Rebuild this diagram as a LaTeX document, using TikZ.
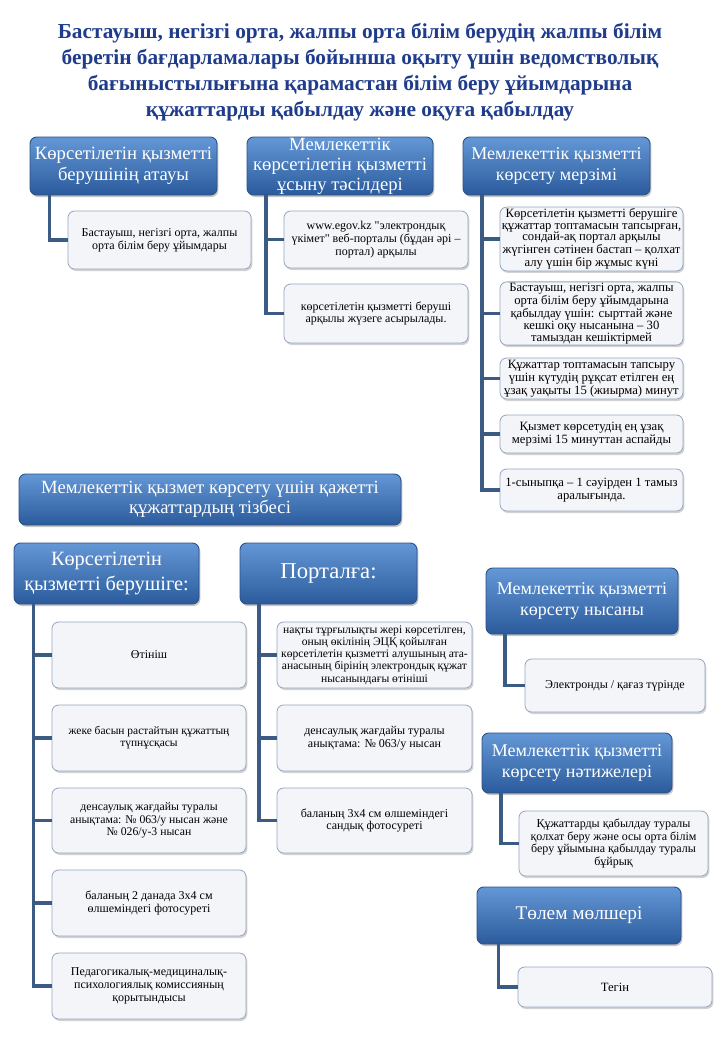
\documentclass[tikz,border=0pt]{standalone}
\usepackage{fontspec}
\setmainfont{Liberation Serif}[Ligatures=TeXOff]
\usepackage{tikz}
\usetikzlibrary{shadows}
\definecolor{hdrtop}{HTML}{6497D6}
\definecolor{hdrbot}{HTML}{2B5B9C}
\definecolor{hdrline}{HTML}{2C5286}
\definecolor{itmfill}{HTML}{F3F5F9}
\definecolor{itmline}{HTML}{93A6BE}
\definecolor{connc}{HTML}{3C5B84}
\definecolor{titleblue}{HTML}{1F3C8C}
\tikzset{
  hdr/.style={draw=hdrline,line width=0.7pt,rounded corners=5pt,top color=hdrtop,bottom color=hdrbot,
    text=white,align=center,inner sep=1pt,
    drop shadow={opacity=0.45,shadow xshift=1pt,shadow yshift=-1.5pt},
    font=\fontsize{13.5}{16}\selectfont},
  itm/.style={draw=itmline,line width=0.6pt,rounded corners=5pt,fill=itmfill,align=center,inner sep=1pt,
    drop shadow={opacity=0.35,shadow xshift=1pt,shadow yshift=-1.5pt},
    font=\fontsize{9}{9.6}\selectfont},
  wh/.style 2 args={minimum width=#1*0.75pt,minimum height=#2*0.75pt},
  conn/.style={draw=connc,line width=2.6pt},
}
\begin{document}
\begin{tikzpicture}[x=0.75pt,y=-0.75pt]
\useasboundingbox[fill=white] (0,0) rectangle (720,1040);
% title
\node (title) at (360,72)[align=center,text=titleblue,font=\fontsize{16}{19.5}\selectfont\bfseries]
  {Бастауыш,  негізгі орта, жалпы орта білім берудің жалпы білім\\
   беретін бағдарламалары бойынша оқыту үшін ведомстволық\\
   бағыныстылығына  қарамастан білім беру ұйымдарына\\
   құжаттарды  қабылдау және оқуға қабылдау};

% top row
\node (h1) at (123.5,166)[hdr,wh={187}{58},font=\fontsize{14}{16}\selectfont]{Көрсетілетін қызметті\\ берушінің атауы};
\node (h2) at (340,166)[hdr,wh={186}{58},inner ysep=0pt,font=\fontsize{14}{15}\selectfont]{Мемлекеттік\\ көрсетілетін қызметті\\ ұсыну тәсілдері};
\node (h3) at (556.5,166)[hdr,wh={187}{58}]{Мемлекеттік қызметті\\ көрсету мерзімі};

\node (a1) at (159.5,240)[itm,wh={183}{58}]{Бастауыш, негізгі орта, жалпы\\ орта білім беру ұйымдары};

\node (b1) at (376,239.5)[itm,wh={184}{57}]{www.egov.kz "электрондық\\ үкімет" веб-порталы (бұдан әрі –\\ портал) арқылы};
\node (b2) at (376,313.5)[itm,wh={184}{59}]{көрсетілетін қызметті беруші\\ арқылы жүзеге асырылады.};

\node (c1) at (591.5,239)[itm,wh={183}{58},font=\fontsize{9.5}{8.7}\selectfont]{Көрсетілетін  қызметті берушіге\\ құжаттар топтамасын  тапсырған,\\ сондай-ақ  портал арқылы\\ жүгінген  сәтінен  бастап  – қолхат\\ алу үшін бір жұмыс күні};
\node (c2) at (591.5,313.5)[itm,wh={183}{59},font=\fontsize{9.5}{8.7}\selectfont]{Бастауыш, негізгі орта, жалпы\\ орта білім беру ұйымдарына\\ қабылдау үшін: сырттай және\\ кешкі оқу нысанына  – 30\\ тамыздан  кешіктірмей};
\node (c3) at (591.5,378.5)[itm,wh={183}{41},font=\fontsize{9.5}{9.6}\selectfont]{Құжаттар топтамасын  тапсыру\\ үшін күтудің рұқсат етілген ең\\ ұзақ уақыты 15 (жиырма) минут};
\node (c4) at (591.5,434)[itm,wh={183}{38},font=\fontsize{9.5}{9.6}\selectfont]{Қызмет  көрсетудің ең ұзақ\\ мерзімі 15 минуттан  аспайды};
\node (c5) at (591.5,490)[itm,wh={183}{42},font=\fontsize{9.5}{9.6}\selectfont]{1-сыныпқа – 1 сәуірден 1 тамыз\\ аралығында.};

% documents
\node (m) at (210,499.5)[hdr,wh={382}{51},font=\fontsize{14}{15}\selectfont]{Мемлекеттік  қызмет көрсету үшін қажетті\\ құжаттардың тізбесі};
\node (d) at (106.5,573.5)[hdr,wh={185}{61},font=\fontsize{15.2}{19}\selectfont]{Көрсетілетін\\ қызметті  берушіге:};
\node (p) at (328.5,573.5)[hdr,wh={177}{61},font=\fontsize{17}{19}\selectfont]{Порталға:};

\node (d1) at (149,655)[itm,wh={194}{66}]{Өтініш};
\node (d2) at (149,738)[itm,wh={194}{66},font=\fontsize{8.6}{9}\selectfont]{жеке басын растайтын құжаттың\\ түпнұсқасы};
\node (d3) at (149,820.5)[itm,wh={194}{65},font=\fontsize{8.8}{9.2}\selectfont]{денсаулық жағдайы  туралы\\ анықтама:  № 063/у нысан  және\\ № 026/у-3 нысан};
\node (d4) at (149,903)[itm,wh={194}{66}]{баланың  2 данада 3х4 см\\ өлшеміндегі  фотосуреті};
\node (d5) at (149,986)[itm,wh={194}{66}]{Педагогикалық-медициналық-\\ психологиялық  комиссияның\\ қорытындысы};

\node (p1) at (374.5,655)[itm,wh={195}{66},font=\fontsize{8.7}{9.2}\selectfont]{нақты тұрғылықты жері көрсетілген,\\ оның өкілінің ЭЦҚ қойылған\\ көрсетілетін қызметті алушының ата-\\ анасының бірінің электрондық құжат\\ нысанындағы өтініші};
\node (p2) at (374.5,738)[itm,wh={195}{66}]{денсаулық жағдайы  туралы\\ анықтама:  № 063/у нысан};
\node (p3) at (374.5,820.5)[itm,wh={195}{65}]{баланың  3х4  см  өлшеміндегі\\ сандық  фотосуреті};

% right column
\node (r1) at (582,601)[hdr,wh={192}{66}]{Мемлекеттік  қызметті\\ көрсету нысаны};
\node (r1a) at (615,685.5)[itm,wh={180}{53}]{Электронды  /  қағаз  түрінде};
\node (r2) at (577,763)[hdr,wh={190}{60}]{Мемлекеттік  қызметті\\ көрсету нәтижелері};
\node (r2a) at (613.5,843.5)[itm,wh={189}{65}]{Құжаттарды  қабылдау туралы\\ қолхат  беру және  осы  орта білім\\ беру ұйымына  қабылдау туралы\\ бұйрық};
\node (r3) at (579,915.5)[hdr,wh={204}{57},font=\fontsize{14.5}{17}\selectfont]{Төлем мөлшері};
\node (r3a) at (615,987)[itm,wh={194}{40},font=\fontsize{9.5}{10}\selectfont]{Тегін};

% connectors
\draw[conn] ([xshift=15pt]h1.south west) |- (a1.west);
\foreach \k in {b1,b2} \draw[conn] ([xshift=14.5pt]h2.south west) |- (\k.west);
\foreach \k in {c1,c2,c3,c4,c5} \draw[conn] ([xshift=14.5pt]h3.south west) |- (\k.west);
\foreach \k in {d1,d2,d3,d4,d5} \draw[conn] ([xshift=15pt]d.south west) |- (\k.west);
\foreach \k in {p1,p2,p3} \draw[conn] ([xshift=14.5pt]p.south west) |- (\k.west);
\draw[conn] ([xshift=14.5pt]r1.south west) |- (r1a.west);
\draw[conn] ([xshift=14.5pt]r2.south west) |- (r2a.west);
\draw[conn] ([xshift=16.5pt]r3.south west) |- (r3a.west);
\end{tikzpicture}
\end{document}
